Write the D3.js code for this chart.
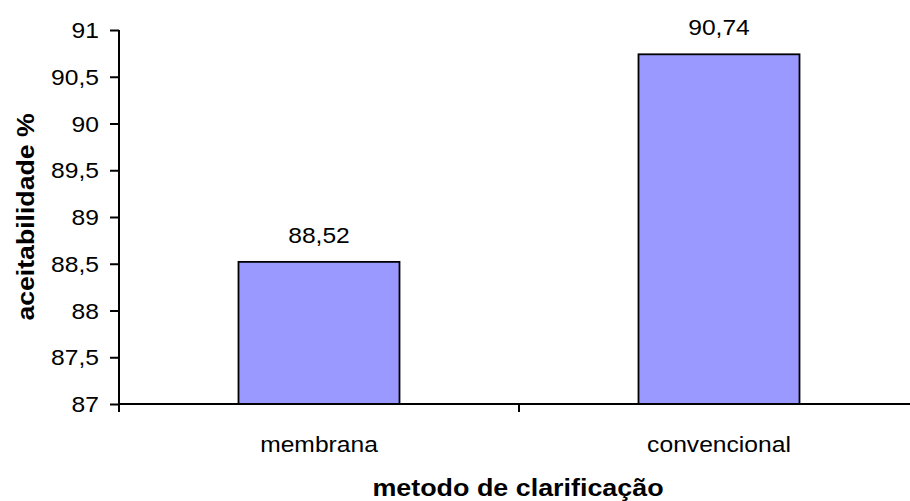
<!DOCTYPE html>
<html>
<head>
<meta charset="utf-8">
<script src="https://cdn.jsdelivr.net/npm/d3@7"></script>
<style>
  html, body { margin: 0; padding: 0; background: #fff; }
  svg { display: block; }
  text { font-family: "Liberation Sans", Arial, sans-serif; fill: #000; }
</style>
</head>
<body>
<svg id="chart" width="910" height="501"></svg>
<script>
// Acceptability by clarification method
const categories = ["membrana", "convencional"];
const values = [88.52, 90.74];
const valueLabels = ["88,52", "90,74"];
const yTicks = [87, 87.5, 88, 88.5, 89, 89.5, 90, 90.5, 91];
const yTickLabels = ["87", "87,5", "88", "88,5", "89", "89,5", "90", "90,5", "91"];
const xTitle = "metodo de clarificação";
const yTitle = "aceitabilidade %";

const svg = d3.select("#chart");
const plot = { left: 119, right: 919, top: 30, bottom: 404 };
const stretch = 1.12; // text is slightly wider than its height suggests

const x = d3.scaleBand().domain(categories).range([plot.left, plot.right]).padding(0);
const y = d3.scaleLinear().domain([87, 91]).range([plot.bottom, plot.top]);

function stretchedText(g, px, py, str, opts) {
  return g.append("text")
    .attr("transform", `translate(${px},${py}) scale(${opts.sx || stretch},1)`)
    .attr("text-anchor", opts.anchor || "middle")
    .attr("font-size", opts.size || 22)
    .attr("font-weight", opts.weight || "normal")
    .text(str);
}

// bars
const barW = 161;
svg.append("g").selectAll("rect")
  .data(values)
  .join("rect")
  .attr("x", (d, i) => x(categories[i]) + x.bandwidth() / 2 - barW / 2)
  .attr("y", d => y(d))
  .attr("width", barW)
  .attr("height", d => y(87) - y(d))
  .attr("fill", "#9999ff")
  .attr("stroke", "#000")
  .attr("stroke-width", 1.8);

// value labels
const vl = svg.append("g");
values.forEach((d, i) => {
  stretchedText(vl, x(categories[i]) + x.bandwidth() / 2, y(d) - 19, valueLabels[i], {});
});

// y axis
const yAxis = d3.axisLeft(y).tickValues(yTicks).tickSize(9)
  .tickFormat((d, i) => yTickLabels[i]);
const yg = svg.append("g").attr("transform", `translate(${plot.left},0)`).call(yAxis);
yg.select(".domain").attr("stroke-width", 2).attr("d", `M0,${plot.top}V${plot.bottom + 1}`);
yg.selectAll(".tick line").attr("stroke-width", 2);
yg.selectAll(".tick text").remove();
yTicks.forEach((t, i) => {
  stretchedText(yg, -20, y(t) + 8, yTickLabels[i], { anchor: "end" });
});

// x axis with ticks on band boundaries
const xg = svg.append("g").attr("transform", `translate(0,${plot.bottom})`);
xg.append("line")
  .attr("x1", plot.left - 1).attr("x2", plot.right)
  .attr("stroke", "#000").attr("stroke-width", 2);
const bounds = [plot.left, ...categories.slice(1).map(c => x(c))];
xg.selectAll("line.tk").data(bounds).join("line")
  .attr("class", "tk")
  .attr("x1", d => d).attr("x2", d => d)
  .attr("y1", 0).attr("y2", 8)
  .attr("stroke", "#000").attr("stroke-width", 2);
categories.forEach(c => {
  stretchedText(xg, x(c) + x.bandwidth() / 2, 48, c, {});
});

// axis titles
stretchedText(svg, 518, 496, xTitle, { weight: "bold", size: 24 });
svg.append("text")
  .attr("transform", `translate(34,${(plot.top + plot.bottom) / 2}) rotate(-90) scale(1.11,1)`)
  .attr("text-anchor", "middle")
  .attr("font-size", 24)
  .attr("font-weight", "bold")
  .text(yTitle);
</script>
</body>
</html>
